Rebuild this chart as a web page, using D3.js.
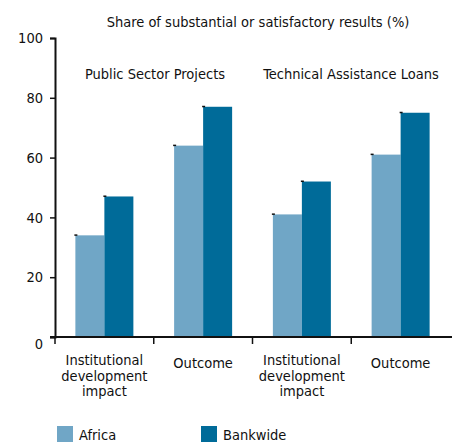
<!DOCTYPE html>
<html>
<head>
<meta charset="utf-8">
<script src="https://cdn.jsdelivr.net/npm/d3@7"></script>
<style>
  html, body { margin: 0; padding: 0; background: #fff; }
  svg { display: block; }
  text { font-family: "DejaVu Sans Condensed", "DejaVu Sans", sans-serif; font-stretch: condensed; fill: #111; }
</style>
</head>
<body>
<svg id="chart" width="452" height="444"></svg>
<script>
// Rating dimensions shown on the x axis (two per loan type)
const categories = ["Institutional development impact", "Outcome", "Institutional development impact", "Outcome"];
const categoryLines = [["Institutional", "development", "impact"], ["Outcome"], ["Institutional", "development", "impact"], ["Outcome"]];
const groupTitles = ["Public Sector Projects", "Technical Assistance Loans"];
const seriesNames = ["Africa", "Bankwide"];
const africa = [34, 64, 41, 61];
const bankwide = [47, 77, 52, 75];
const yTicks = [0, 20, 40, 60, 80, 100];
const colors = ["#70a6c6", "#006b99"];

const svg = d3.select("#chart");
const margin = { left: 55, top: 38, bottom: 337, right: 450 };
const fs = 14.5;

const x = d3.scaleBand().domain(d3.range(categories.length)).range([margin.left, margin.right]).padding(0);
const y = d3.scaleLinear().domain([0, 100]).range([margin.bottom, margin.top]);
const barW = 29;
const sub = d3.scaleBand().domain(seriesNames).range([-barW, barW]).padding(0);

// Title
svg.append("text").attr("x", 258).attr("y", 27).attr("text-anchor", "middle")
  .attr("font-size", fs).text("Share of substantial or satisfactory results (%)");

// Group titles
svg.append("text").attr("x", 155).attr("y", 79).attr("text-anchor", "middle")
  .attr("font-size", fs).text(groupTitles[0]);
svg.append("text").attr("x", 351).attr("y", 79).attr("text-anchor", "middle")
  .attr("font-size", fs).text(groupTitles[1]);

// Bars
const rows = categories.map((c, i) => ({ i, values: [africa[i], bankwide[i]] }));
const g = svg.append("g");
rows.forEach(r => {
  const cx = x(r.i) + x.bandwidth() / 2;
  r.values.forEach((v, k) => {
    const bx = cx + sub(seriesNames[k]);
    g.append("rect").attr("x", bx).attr("y", y(v))
      .attr("width", sub.bandwidth()).attr("height", y(0) - y(v))
      .attr("fill", colors[k]);
    // small dark tick at the top-left corner of each bar
    g.append("rect").attr("x", bx - 1).attr("y", y(v) - 1)
      .attr("width", 3).attr("height", 1.5).attr("fill", "#111");
  });
});

// Y axis
const yAxis = d3.axisLeft(y).tickValues(yTicks).tickSize(5).tickPadding(7);
const ya = svg.append("g").attr("transform", `translate(${margin.left},0)`).call(yAxis);
ya.select(".domain").attr("stroke", "#111").attr("stroke-width", 2);
ya.selectAll(".tick line").attr("stroke", "#111").attr("stroke-width", 1.5);
ya.selectAll(".tick text").attr("font-size", fs).attr("fill", "#111")
  .attr("font-family", null)
  .attr("dy", d => d === 0 ? "0.8em" : "0.32em");

// X axis
const xa = svg.append("g").attr("transform", `translate(0,${margin.bottom})`);
xa.append("line").attr("x1", 50).attr("x2", 452).attr("y1", 0).attr("y2", 0)
  .attr("stroke", "#111").attr("stroke-width", 2);
xa.selectAll("line.tk").data(d3.range(categories.length)).join("line").attr("class", "tk")
  .attr("x1", d => x(d)).attr("x2", d => x(d)).attr("y1", 0).attr("y2", 7)
  .attr("stroke", "#111").attr("stroke-width", 1.5);
categoryLines.forEach((lines, i) => {
  const cx = x(i) + x.bandwidth() / 2;
  lines.forEach((ln, j) => {
    xa.append("text").attr("text-anchor", "middle").attr("font-size", fs)
      .attr("x", cx).attr("y", (lines.length === 1 ? 31 : 28) + j * 15.5).text(ln);
  });
});

// Legend
const legend = svg.append("g");
const legX = [57, 201];
seriesNames.forEach((s, k) => {
  legend.append("rect").attr("x", legX[k]).attr("y", 426).attr("width", 16).attr("height", 16).attr("fill", colors[k]);
  legend.append("text").attr("x", legX[k] + 22).attr("y", 440).attr("font-size", fs).text(s);
});
</script>
</body>
</html>
